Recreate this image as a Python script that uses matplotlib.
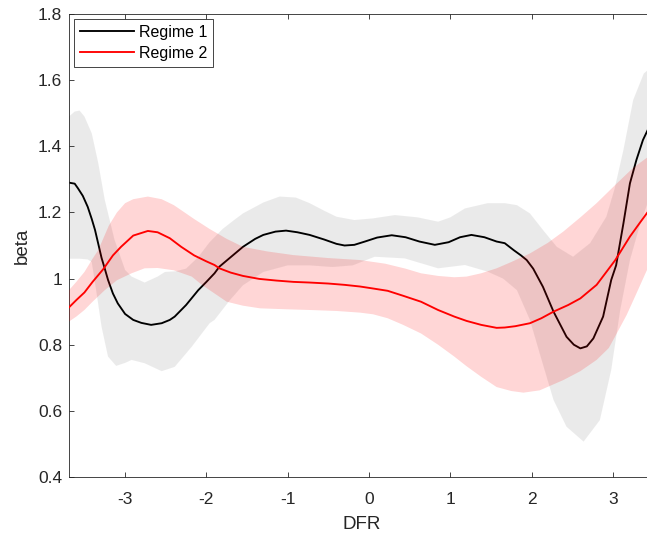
"""Regime-dependent beta against DFR with confidence bands."""

import matplotlib

matplotlib.use("Agg")  # Headless backend
import matplotlib.pyplot as plt  # noqa: E402

plt.rcParams["font.family"] = ["Liberation Sans", "DejaVu Sans"]

SERIES_LABELS = ["Regime 1", "Regime 2"]
X_TICKS = [-3, -2, -1, 0, 1, 2, 3]
X_TICK_LABELS = ["-3", "-2", "-1", "0", "1", "2", "3"]
Y_TICKS = [0.4, 0.6, 0.8, 1.0, 1.2, 1.4, 1.6, 1.8]
Y_TICK_LABELS = ["0.4", "0.6", "0.8", "1", "1.2", "1.4", "1.6", "1.8"]

# Regime 1 estimate (black line)
r1_x = [-3.69, -3.62, -3.58, -3.52, -3.46, -3.41, -3.37, -3.33, -3.29, -3.25,
        -3.21, -3.15, -3.09, -3.0, -2.9, -2.8, -2.68, -2.55, -2.45, -2.39,
        -2.25, -2.1, -2.0, -1.9, -1.84, -1.7, -1.55, -1.4, -1.3, -1.15,
        -1.02, -0.88, -0.73, -0.55, -0.4, -0.3, -0.18, -0.05, 0.1, 0.28,
        0.45, 0.62, 0.81, 0.98, 1.12, 1.26, 1.42, 1.57, 1.67, 1.78,
        1.87, 1.94, 2.02, 2.14, 2.27, 2.43, 2.52, 2.6, 2.68, 2.76,
        2.88, 2.98, 3.04, 3.13, 3.21, 3.29, 3.37, 3.44, 3.5]
r1_y = [1.29, 1.287, 1.273, 1.25, 1.217, 1.18, 1.147, 1.105, 1.063, 1.03,
        0.996, 0.955, 0.925, 0.893, 0.875, 0.866, 0.86, 0.865, 0.875, 0.885,
        0.92, 0.965, 0.99, 1.016, 1.036, 1.065, 1.096, 1.12, 1.132, 1.142,
        1.145, 1.14, 1.132, 1.118, 1.105, 1.1, 1.102, 1.112, 1.124, 1.131,
        1.125, 1.112, 1.102, 1.11, 1.125, 1.132, 1.125, 1.112, 1.107, 1.086,
        1.07, 1.056, 1.03, 0.975, 0.9, 0.824, 0.8, 0.789, 0.795, 0.819,
        0.885, 0.996, 1.04, 1.167, 1.288, 1.359, 1.419, 1.455, 1.48]
r1_lo_x = [-3.69, -3.56, -3.46, -3.41, -3.35, -3.29, -3.21, -3.11, -3.0, -2.92,
           -2.76, -2.55, -2.39, -2.18, -1.96, -1.9, -1.71, -1.55, -1.3, -1.0,
           -0.73, -0.45, -0.2, 0.07, 0.44, 0.85, 1.18, 1.46, 1.65, 1.82,
           1.98, 2.1, 2.27, 2.43, 2.64, 2.84, 2.98, 3.09, 3.21, 3.33, 3.5]
r1_lo_y = [1.06, 1.06, 1.058, 1.05, 0.955, 0.855, 0.764, 0.736, 0.745, 0.754,
           0.744, 0.72, 0.733, 0.794, 0.865, 0.875, 0.935, 0.98, 1.02, 1.04,
           1.04, 1.035, 1.04, 1.066, 1.061, 1.031, 1.041, 1.021, 1.0, 0.965,
           0.875, 0.774, 0.633, 0.552, 0.507, 0.572, 0.724, 0.905, 1.056, 1.16, 1.28]
r1_hi_x = [-3.69, -3.62, -3.56, -3.5, -3.41, -3.33, -3.25, -3.13, -3.0, -2.92,
           -2.76, -2.6, -2.51, -2.38, -2.25, -2.1, -1.96, -1.8, -1.67, -1.55,
           -1.3, -1.1, -0.9, -0.73, -0.55, -0.4, -0.18, 0.05, 0.32, 0.6,
           0.85, 1.0, 1.18, 1.46, 1.67, 1.82, 1.98, 2.14, 2.31, 2.51,
           2.72, 2.92, 3.02, 3.13, 3.25, 3.38, 3.5]
r1_hi_y = [1.49, 1.505, 1.508, 1.49, 1.439, 1.349, 1.238, 1.117, 1.026, 1.006,
           0.988, 1.006, 1.02, 1.022, 1.03, 1.065, 1.11, 1.15, 1.175, 1.197,
           1.23, 1.248, 1.245, 1.228, 1.205, 1.187, 1.177, 1.182, 1.192, 1.185,
           1.172, 1.185, 1.212, 1.228, 1.228, 1.222, 1.197, 1.147, 1.096, 1.066,
           1.107, 1.187, 1.27, 1.389, 1.54, 1.62, 1.645]

# Regime 2 estimate (red line)
r2_x = [-3.69, -3.6, -3.5, -3.4, -3.27, -3.15, -3.05, -2.9, -2.72, -2.6,
        -2.45, -2.31, -2.15, -2.0, -1.9, -1.84, -1.7, -1.55, -1.35, -1.14,
        -0.93, -0.73, -0.5, -0.3, -0.11, 0.05, 0.23, 0.42, 0.64, 0.85,
        1.05, 1.2, 1.38, 1.57, 1.67, 1.8, 1.98, 2.12, 2.27, 2.45,
        2.6, 2.8, 2.92, 3.03, 3.21, 3.33, 3.5]
r2_y = [0.913, 0.935, 0.958, 0.99, 1.028, 1.07, 1.096, 1.13, 1.144, 1.14,
        1.122, 1.096, 1.07, 1.052, 1.041, 1.031, 1.018, 1.008, 0.999, 0.994,
        0.99, 0.988, 0.985, 0.981, 0.976, 0.97, 0.963, 0.948, 0.93, 0.905,
        0.885, 0.872, 0.86, 0.851, 0.852, 0.856, 0.865, 0.88, 0.9, 0.92,
        0.94, 0.981, 1.02, 1.056, 1.127, 1.168, 1.225]
r2_lo_x = [-3.69, -3.6, -3.5, -3.4, -3.25, -3.1, -2.92, -2.76, -2.6, -2.4,
           -2.18, -2.05, -1.9, -1.75, -1.55, -1.34, -1.0, -0.73, -0.4, -0.11,
           0.05, 0.23, 0.42, 0.64, 0.85, 1.05, 1.2, 1.38, 1.57, 1.75,
           1.9, 2.1, 2.39, 2.6, 2.8, 2.95, 3.05, 3.17, 3.29, 3.5]
r2_lo_y = [0.87, 0.885, 0.905, 0.93, 0.965, 0.995, 1.016, 1.031, 1.032, 1.025,
           1.006, 0.98, 0.955, 0.93, 0.918, 0.91, 0.907, 0.905, 0.902, 0.897,
           0.892, 0.88, 0.86, 0.834, 0.8, 0.764, 0.735, 0.703, 0.672, 0.66,
           0.655, 0.662, 0.693, 0.72, 0.754, 0.79, 0.835, 0.89, 0.955, 1.07]
r2_hi_x = [-3.69, -3.6, -3.5, -3.4, -3.33, -3.2, -3.1, -3.0, -2.9, -2.72,
           -2.55, -2.4, -2.31, -2.15, -1.96, -1.75, -1.55, -1.25, -0.93, -0.5,
           -0.11, 0.2, 0.45, 0.64, 0.85, 1.05, 1.2, 1.38, 1.57, 1.75,
           1.98, 2.2, 2.39, 2.6, 2.8, 3.05, 3.25, 3.5]
r2_hi_y = [0.965, 0.99, 1.02, 1.06, 1.086, 1.16, 1.2, 1.228, 1.24, 1.248,
           1.24, 1.222, 1.207, 1.18, 1.15, 1.12, 1.096, 1.082, 1.071, 1.062,
           1.056, 1.045, 1.03, 1.016, 1.008, 1.004, 1.006, 1.016, 1.031, 1.05,
           1.076, 1.108, 1.142, 1.185, 1.228, 1.288, 1.335, 1.38]


def band_polygon(lo_x, lo_y, hi_x, hi_y):
    """Closed outline: lower edge left to right, upper edge right to left."""
    return list(lo_x) + list(hi_x)[::-1], list(lo_y) + list(hi_y)[::-1]


fig = plt.figure(figsize=(6.47, 5.38), dpi=100)
ax = fig.add_axes([69 / 647, 61 / 538, 585 / 647, 463 / 538])

px, py = band_polygon(r1_lo_x, r1_lo_y, r1_hi_x, r1_hi_y)
ax.fill(px, py, color="#7f7f7f", alpha=0.155, linewidth=0, zorder=1)
line1, = ax.plot(r1_x, r1_y, color="black", linewidth=1.35, zorder=2,
                 solid_joinstyle="round")
px, py = band_polygon(r2_lo_x, r2_lo_y, r2_hi_x, r2_hi_y)
ax.fill(px, py, color="red", alpha=0.16, linewidth=0, zorder=3)
line2, = ax.plot(r2_x, r2_y, color="red", linewidth=1.35, zorder=4,
                 solid_joinstyle="round")

ax.set_xlim(-3.69, 3.506)
ax.set_ylim(0.4, 1.8)
ax.set_xticks(X_TICKS, X_TICK_LABELS)
ax.set_yticks(Y_TICKS, Y_TICK_LABELS)
ax.tick_params(direction="in", top=True, right=True, length=3.6, width=0.6,
               colors="#262626", labelsize=12.5)
ax.tick_params(axis="x", pad=11)
ax.tick_params(axis="y", pad=5)
for spine in ax.spines.values():
    spine.set_color("#262626")
    spine.set_linewidth(0.6)

ax.set_xlabel("DFR", fontsize=13.5, color="#262626", labelpad=6)
ax.set_ylabel("beta", fontsize=13.5, color="#262626", labelpad=5)

leg = ax.legend([line1, line2], SERIES_LABELS, loc="upper left",
                fontsize=11.5, handlelength=3.4, handletextpad=0.3,
                labelspacing=0.38, borderaxespad=0.3, borderpad=0.38,
                fancybox=False, framealpha=1)
leg.get_frame().set_edgecolor("#262626")
leg.get_frame().set_linewidth(0.6)
leg.set_zorder(10)

fig.savefig("out.png", dpi=100)
plt.close(fig)
